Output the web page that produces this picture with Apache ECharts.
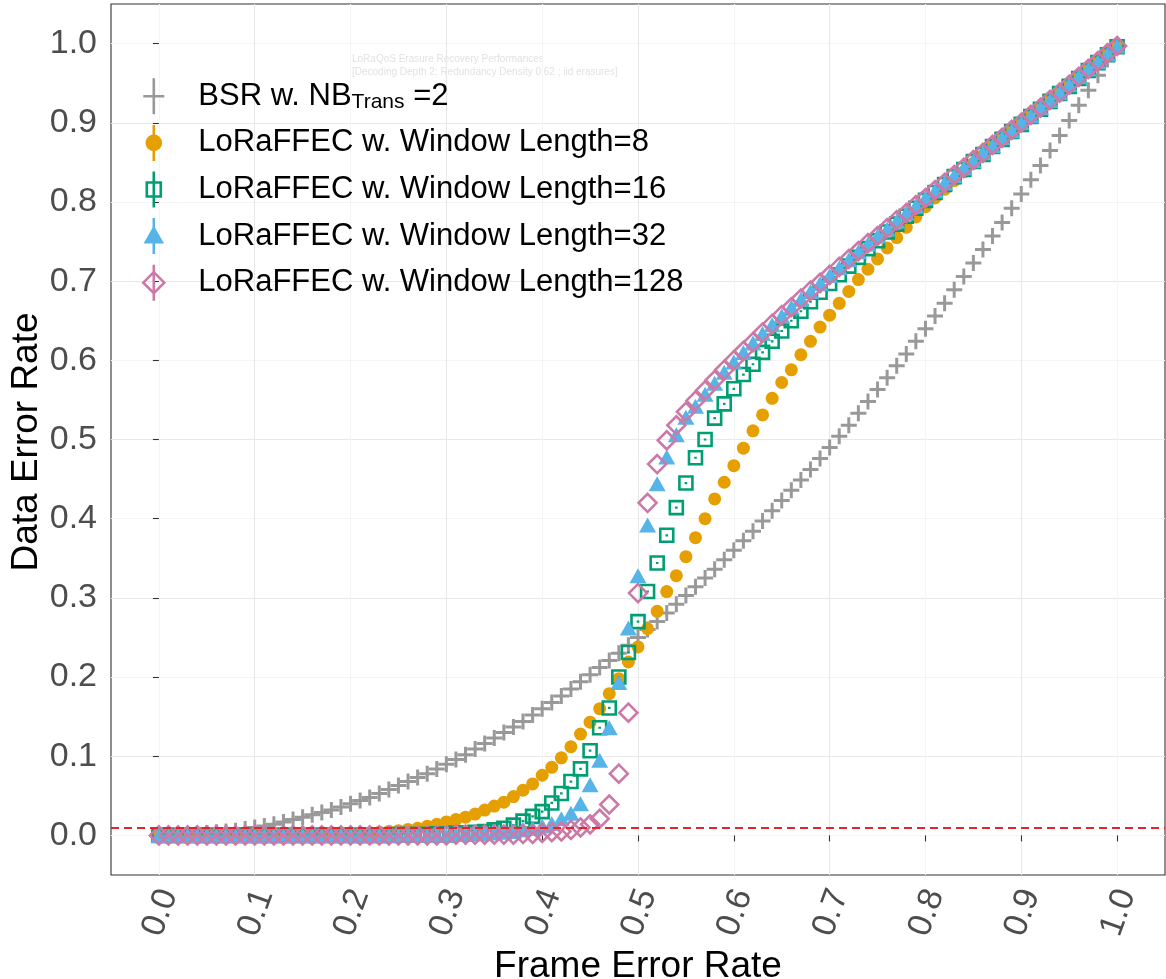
<!DOCTYPE html>
<html><head><meta charset="utf-8">
<script src="https://cdn.jsdelivr.net/npm/echarts@6/dist/echarts.min.js"></script>
<style>html,body{margin:0;padding:0;background:#fff}#c{width:1166px;height:979px}</style>
</head><body><div id="c"></div>
<script>
const frameErrorRate = [
0.00,0.01,0.02,0.03,0.04,0.05,0.06,0.07,0.08,0.09,
0.10,0.11,0.12,0.13,0.14,0.15,0.16,0.17,0.18,0.19,
0.20,0.21,0.22,0.23,0.24,0.25,0.26,0.27,0.28,0.29,
0.30,0.31,0.32,0.33,0.34,0.35,0.36,0.37,0.38,0.39,
0.40,0.41,0.42,0.43,0.44,0.45,0.46,0.47,0.48,0.49,
0.50,0.51,0.52,0.53,0.54,0.55,0.56,0.57,0.58,0.59,
0.60,0.61,0.62,0.63,0.64,0.65,0.66,0.67,0.68,0.69,
0.70,0.71,0.72,0.73,0.74,0.75,0.76,0.77,0.78,0.79,
0.80,0.81,0.82,0.83,0.84,0.85,0.86,0.87,0.88,0.89,
0.90,0.91,0.92,0.93,0.94,0.95,0.96,0.97,0.98,0.99,
1.00];
const bsrNB2 = [
0.000,0.000,0.000,0.001,0.002,0.003,0.004,0.005,0.006,0.008,
0.010,0.012,0.014,0.017,0.020,0.023,0.026,0.029,0.032,0.036,
0.040,0.044,0.048,0.053,0.058,0.063,0.068,0.073,0.078,0.084,
0.090,0.096,0.102,0.109,0.116,0.123,0.130,0.137,0.144,0.152,
0.160,0.168,0.176,0.185,0.194,0.203,0.212,0.221,0.230,0.240,
0.250,0.260,0.270,0.281,0.292,0.303,0.314,0.325,0.336,0.348,
0.360,0.372,0.384,0.397,0.410,0.423,0.436,0.449,0.462,0.476,
0.490,0.504,0.518,0.533,0.548,0.563,0.578,0.593,0.608,0.624,
0.640,0.656,0.672,0.689,0.706,0.723,0.740,0.757,0.774,0.792,
0.810,0.828,0.846,0.865,0.884,0.903,0.922,0.941,0.960,0.980,
0.998];
const ffecW8 = [
0.000,0.000,0.000,0.000,0.000,0.000,0.000,0.000,0.000,0.000,
0.000,0.000,0.000,0.001,0.001,0.001,0.001,0.001,0.002,0.002,
0.002,0.003,0.003,0.004,0.005,0.006,0.0075,0.009,0.0115,0.014,
0.017,0.020,0.023,0.027,0.032,0.037,0.042,0.049,0.057,0.065,
0.076,0.086,0.098,0.112,0.128,0.143,0.160,0.179,0.198,0.219,
0.238,0.261,0.283,0.308,0.328,0.352,0.376,0.400,0.425,0.446,
0.467,0.489,0.511,0.531,0.552,0.572,0.588,0.607,0.624,0.642,
0.657,0.672,0.687,0.702,0.715,0.728,0.742,0.755,0.768,0.781,
0.794,0.805,0.816,0.827,0.838,0.849,0.859,0.870,0.880,0.890,
0.900,0.910,0.920,0.930,0.940,0.950,0.960,0.970,0.979,0.988,
0.997];
const ffecW16 = [
0.000,0.000,0.000,0.000,0.000,0.000,0.000,0.000,0.000,0.000,
0.000,0.000,0.000,0.000,0.000,0.000,0.000,0.000,0.000,0.000,
0.000,0.000,0.000,0.000,0.000,0.001,0.001,0.001,0.001,0.002,
0.002,0.003,0.003,0.004,0.005,0.007,0.009,0.013,0.018,0.024,
0.030,0.041,0.053,0.068,0.084,0.107,0.136,0.161,0.200,0.231,
0.270,0.308,0.344,0.379,0.414,0.445,0.477,0.500,0.527,0.545,
0.564,0.582,0.595,0.610,0.624,0.637,0.650,0.662,0.674,0.686,
0.697,0.708,0.719,0.730,0.741,0.751,0.762,0.772,0.782,0.792,
0.802,0.812,0.822,0.832,0.841,0.851,0.860,0.870,0.879,0.889,
0.898,0.908,0.917,0.927,0.937,0.946,0.956,0.966,0.976,0.986,
0.996];
const ffecW32 = [
0.000,0.000,0.000,0.000,0.000,0.000,0.000,0.000,0.000,0.000,
0.000,0.000,0.000,0.000,0.000,0.000,0.000,0.000,0.000,0.000,
0.000,0.000,0.000,0.000,0.000,0.000,0.000,0.000,0.000,0.000,
0.000,0.001,0.001,0.002,0.002,0.003,0.004,0.005,0.007,0.009,
0.012,0.015,0.021,0.028,0.040,0.064,0.095,0.136,0.193,0.262,
0.328,0.392,0.444,0.478,0.506,0.528,0.542,0.557,0.571,0.585,
0.598,0.610,0.622,0.634,0.645,0.656,0.667,0.677,0.687,0.697,
0.707,0.717,0.727,0.737,0.747,0.757,0.766,0.776,0.786,0.795,
0.805,0.814,0.824,0.833,0.843,0.852,0.862,0.871,0.881,0.890,
0.900,0.909,0.919,0.928,0.938,0.948,0.958,0.968,0.977,0.987,
0.997];
const ffecW128 = [
0.000,0.000,0.000,0.000,0.000,0.000,0.000,0.000,0.000,0.000,
0.000,0.000,0.000,0.000,0.000,0.000,0.000,0.000,0.000,0.000,
0.000,0.000,0.000,0.000,0.000,0.000,0.000,0.000,0.000,0.000,
0.000,0.001,0.001,0.001,0.001,0.001,0.001,0.001,0.002,0.002,
0.003,0.004,0.005,0.007,0.010,0.014,0.021,0.039,0.078,0.155,
0.306,0.420,0.469,0.499,0.518,0.535,0.549,0.562,0.575,0.588,
0.600,0.612,0.623,0.635,0.646,0.657,0.667,0.678,0.688,0.698,
0.708,0.718,0.728,0.738,0.748,0.757,0.767,0.777,0.786,0.796,
0.805,0.815,0.824,0.834,0.843,0.853,0.862,0.872,0.881,0.891,
0.900,0.910,0.919,0.929,0.938,0.948,0.958,0.968,0.978,0.988,
0.997];
const seriesNames = [
  'BSR w. NBTrans =2',
  'LoRaFFEC w. Window Length=8',
  'LoRaFFEC w. Window Length=16',
  'LoRaFFEC w. Window Length=32',
  'LoRaFFEC w. Window Length=128'
];
const majorTicks = [0.0,0.1,0.2,0.3,0.4,0.5,0.6,0.7,0.8,0.9,1.0];
const thresholdLevel = 0.01;
const xTitle = 'Frame Error Rate';
const yTitle = 'Data Error Rate';
const titleLines = 'LoRaQoS Erasure Recovery Performances\n[Decoding Depth 2; Redundancy Density 0.62 ; iid erasures]';

const FONT = '"Liberation Sans", Arial, Helvetica, sans-serif';
const COLORS = ['#999999', '#E69F00', '#009E73', '#56B4E9', '#CC79A7'];
const pairs = arr => frameErrorRate.map((x, i) => [x, arr[i]]);

const chart = echarts.init(document.getElementById('c'), null, {renderer: 'canvas'});

function axisBase() {
  return {
    type: 'value', min: -0.05, max: 1.05, interval: 0.05,
    axisLine: {show: false},
    axisTick: {show: true, customValues: majorTicks, length: 6, lineStyle: {color: '#333', width: 1.1}},
    splitLine: {show: true, lineStyle: {color: ['#f4f4f4', '#e8e8e8'], width: 1.1}},
    nameLocation: 'middle',
    nameTextStyle: {fontSize: 37, color: '#000', fontFamily: FONT}
  };
}
const xAx = axisBase();
xAx.name = xTitle;
xAx.nameGap = 70;
xAx.axisLabel = {customValues: majorTicks, formatter: v => v.toFixed(1), rotate: 70, fontSize: 34, color: '#4d4d4d',
                 margin: 12, verticalAlign: 'top', lineHeight: 20, fontFamily: FONT};
const yAx = axisBase();
yAx.axisLabel = {customValues: majorTicks, formatter: v => v.toFixed(1), fontSize: 34, color: '#4d4d4d', margin: 14, fontFamily: FONT};

// legend icons: marker with a vertical error-bar stroke through it (21 x 36 frame)
const EXT = 'M0,18L0,18M21,18L21,18';
const legendIcons = [
  'path://M10.5,0L10.5,36M0,18L21,18',
  'path://M3.5,18A7,7 0 1,0 17.5,18A7,7 0 1,0 3.5,18ZM10.5,0L10.5,36' + EXT,
  'path://M3.5,11L17.5,11L17.5,25L3.5,25ZM10.5,0L10.5,36' + EXT,
  'path://M10.5,10L18.5,24L2.5,24ZM10.5,0L10.5,36' + EXT,
  'path://M10.5,7.5L21,18L10.5,28.5L0,18ZM10.5,0L10.5,36'
];
const legendFill = ['rgba(0,0,0,0)', COLORS[1], 'rgba(0,0,0,0)', COLORS[3], 'rgba(0,0,0,0)'];

const option = {
  animation: false,
  backgroundColor: '#fff',
  textStyle: {fontFamily: FONT},
  grid: {left: 111, top: 4, right: 1, bottom: 104, containLabel: false, outerBoundsMode: 'none',
         show: true, borderColor: '#333', borderWidth: 1.1, backgroundColor: 'rgba(0,0,0,0)'},
  xAxis: xAx,
  yAxis: yAx,
  legend: {
    orient: 'vertical', left: 142, top: 77, padding: 0,
    itemWidth: 21, itemHeight: 36, itemGap: 8,
    data: seriesNames.map((n, i) => ({
      name: n, icon: legendIcons[i],
      itemStyle: {color: legendFill[i], borderColor: COLORS[i], borderWidth: 2.6, opacity: 1}
    })),
    formatter: name => name === seriesNames[0] ? '{g|}{n|BSR w. NB}{s|Trans}{n| =2}' : '{g|}{n|' + name + '}',
    textStyle: {
      fontSize: 31, color: '#000', fontFamily: FONT,
      rich: {
        g: {width: 29, lineHeight: 34},
        n: {fontSize: 31, color: '#000', lineHeight: 34, fontFamily: FONT},
        s: {fontSize: 21, color: '#000', lineHeight: 34, padding: [12, 0, 0, 0], fontFamily: FONT}
      }
    }
  },
  graphic: [
    {
      type: 'text', left: 352, top: 53, silent: true,
      style: {text: titleLines, fill: '#e2e2e2', font: '10px "Liberation Sans", Arial, sans-serif', lineHeight: 13}
    },
    {
      type: 'text', x: 27, y: 442, rotation: Math.PI / 2, silent: true,
      style: {text: yTitle, fill: '#000', font: '37px "Liberation Sans", Arial, sans-serif', align: 'center', verticalAlign: 'middle'}
    }
  ],
  series: [
    {
      name: seriesNames[0], type: 'scatter', data: pairs(bsrNB2),
      symbol: 'path://M5,0L5,10M0,5L10,5', symbolSize: 16,
      itemStyle: {color: 'rgba(0,0,0,0)', borderColor: COLORS[0], borderWidth: 3, opacity: 1},
      markLine: {
        silent: true, symbol: 'none', label: {show: false},
        lineStyle: {color: '#E3242B', type: [8, 5], width: 1.8},
        data: [{yAxis: thresholdLevel}]
      }
    },
    {
      name: seriesNames[1], type: 'scatter', data: pairs(ffecW8),
      symbol: 'circle', symbolSize: 13,
      itemStyle: {color: COLORS[1], opacity: 1}
    },
    {
      name: seriesNames[2], type: 'scatter', data: pairs(ffecW16),
      symbol: 'path://M0,0L12,0L12,12L0,12ZM6,5L6,7', symbolSize: 13,
      itemStyle: {color: 'rgba(255,255,255,0)', borderColor: COLORS[2], borderWidth: 2.6, opacity: 1}
    },
    {
      name: seriesNames[3], type: 'scatter', data: pairs(ffecW32),
      symbol: 'triangle', symbolSize: [17, 15],
      itemStyle: {color: COLORS[3], opacity: 1}
    },
    {
      name: seriesNames[4], type: 'scatter', data: pairs(ffecW128),
      symbol: 'diamond', symbolSize: 18,
      itemStyle: {color: 'rgba(255,255,255,0)', borderColor: COLORS[4], borderWidth: 2.6, opacity: 1}
    }
  ]
};
chart.setOption(option);
</script>
</body></html>
